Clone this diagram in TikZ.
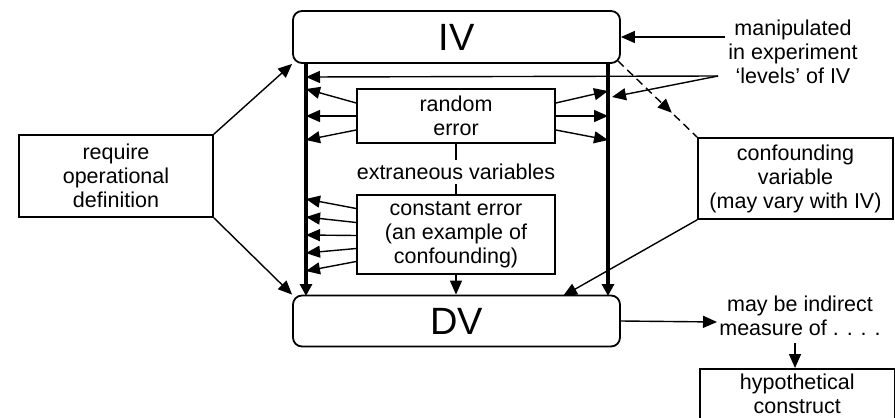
\documentclass[tikz,border=0pt]{standalone}
\usepackage{fontspec}
\setmainfont{Liberation Sans}
\usetikzlibrary{arrows.meta,calc,decorations.markings}
\begin{document}
\begin{tikzpicture}[x=1pt,y=-1pt,
  txt/.style={font=\fontsize{21.5}{24}\selectfont,align=center,inner sep=0pt},
  bigbox/.style={draw,line width=1.8pt,rounded corners=9pt,minimum width=327pt,
                 font=\fontsize{38}{38}\selectfont},
  plainbox/.style={draw,line width=1.6pt,font=\fontsize{21.5}{24}\selectfont,align=center,inner sep=0pt},
  tip/.style={Triangle[length=14pt,width=12pt]},
  arr/.style={line width=1.4pt,-{Triangle[length=14pt,width=12pt]}},
  thickarr/.style={line width=3.2pt,-{Triangle[length=12pt,width=12pt]}},
  plain/.style={line width=1.4pt}]
\useasboundingbox (0,0) rectangle (895,418);
\clip (0,0) rectangle (895,418);

% main boxes
\node[bigbox,minimum height=52pt] (IV) at (456.5,37) {IV};
\node[bigbox,minimum height=51pt] (DV) at (456.5,321) {DV};

% inner boxes
\node[plainbox,minimum width=198pt,minimum height=54pt] (rand) at (456,116) {random\\error};
\node[txt,inner sep=4pt] (extr) at (456,172) {extraneous variables};
\node[plainbox,minimum width=198pt,minimum height=79pt] (const) at (456,234.5)
  {constant error\\(an example of\\confounding)};

% side boxes
\node[plainbox,minimum width=194pt,minimum height=82pt] (req) at (116,176)
  {require\\operational\\definition};
\node[plainbox,minimum width=195pt,minimum height=81pt] (conf) at (795.5,178.5)
  {confounding\\variable\\(may vary with IV)};
\node[txt] (manip) at (793,52) {manipulated\\in experiment\\`levels' of IV};
\node[txt] (meas) at (800,316) {may be indirect\\measure of . . . .};
\node[plainbox,minimum width=195pt,minimum height=80pt,anchor=north west,
      text depth=30pt] (hyp) at (699,368) {hypothetical\\construct};

% the two thick verticals from IV to DV
\coordinate (Ltop) at (306,63);
\coordinate (Lbot) at (306,296);
\coordinate (Rtop) at (608,63);
\coordinate (Rbot) at (608,296);
\draw[thickarr] (Ltop) -- (Lbot);
\draw[thickarr] (Rtop) -- (Rbot);

% random error acting on both lines
\draw[arr] ([yshift=13pt]rand.west) -- (306,89);
\draw[arr] (rand.west) -- (306,116);
\draw[arr] ([yshift=-14pt]rand.west) -- (306,140);
\draw[arr] ([yshift=13pt]rand.east) -- (608,91);
\draw[arr] (rand.east) -- (608,116);
\draw[arr] ([yshift=-14pt]rand.east) -- (608,140);

% links between the inner boxes
\draw[plain] (rand.south) -- (extr.north);
\draw[plain] (extr.south) -- (const.north);
\draw[arr] (const.south) -- (const.south |- DV.north);

% constant error acting on the IV line only
\draw[arr] ([yshift=26pt]const.west) -- (306,199);
\draw[arr] ([yshift=12pt]const.west) -- (306,217);
\draw[arr] ([yshift=-1pt]const.west) -- (306,235);
\draw[arr] ([yshift=-14pt]const.west) -- (306,253);
\draw[arr] ([yshift=-27pt]const.west) -- (306,271);

% operational definition
\draw[arr] (req.north east) -- (IV.south west);
\draw[arr] (req.south east) -- (DV.north west);

% manipulation of the IV
\coordinate (lev) at (718,76);
\draw[arr] (manip.north west |- 0,37) ++(-3,0) -- (IV.east);
\draw[arr] (lev) -- (306,77);
\draw[arr] (lev) -- (612,97);

% confounding variable
\draw[line width=1.4pt,dash pattern=on 8pt off 5pt,postaction={decorate},
  decoration={markings,mark=at position 0.68 with {\arrow[solid]{Triangle[length=14pt,width=12pt]}}}]
  ([xshift=-3pt,yshift=3pt]IV.south east) -- (conf.north west);
\draw[arr] (conf.south west) -- (563,296);

% DV as a measure
\draw[arr] (DV.east) -- (717,322);
\draw[arr] (795,343) -- (hyp.north -| 795,0);
\end{tikzpicture}
\end{document}
